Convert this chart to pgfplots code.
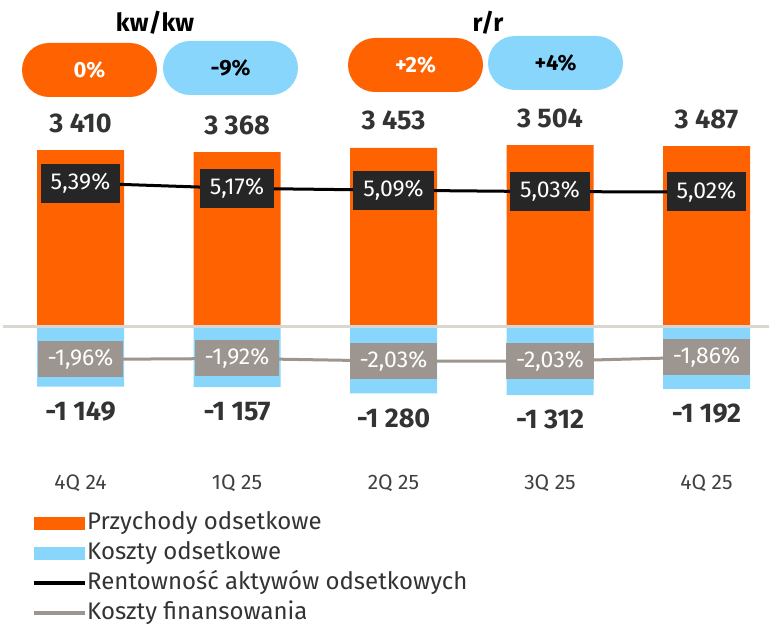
\documentclass[border=0pt]{standalone}
\usepackage{pgfplots}
\pgfplotsset{compat=1.18}
\usepackage{fontspec}
\setmainfont{Fira Sans}
\usetikzlibrary{shapes.misc}
\definecolor{ingorange}{HTML}{FF6200}
\definecolor{ingblue}{HTML}{89D6FD}
\definecolor{boxblack}{HTML}{262626}
\definecolor{boxgrey}{HTML}{9D958F}
\definecolor{baseclr}{HTML}{DCD6D1}
\definecolor{txt}{HTML}{333333}
\definecolor{cattxt}{HTML}{404040}
\begin{document}
\begin{tikzpicture}
\useasboundingbox (0pt,0pt) rectangle (769pt,629pt);
\begin{axis}[
  at={(0pt,0pt)}, anchor=south west,
  scale only axis, width=769pt, height=629pt,
  xmin=-0.5144, xmax=4.3994,
  ymin=-5818.9, ymax=6300.6,
  axis line style={draw=none}, tick style={draw=none},
  ytick=\empty,
  xtick={0,1,2,3,4},
  xticklabels={4Q 24,1Q 25,2Q 25,3Q 25,4Q 25},
  xticklabel style={anchor=center, yshift=150pt, font=\fontsize{21pt}{25pt}\selectfont, text=cattxt},
  ybar, bar width=87pt, bar shift=0pt,
  /pgf/number format/assume math mode=true,
  /pgf/number format/1000 sep={\ },
  nodes near coords,
  every node near coord/.append style={anchor=center, font=\bfseries\fontsize{27pt}{32pt}\selectfont, text=txt},
  legend style={at={(0.0416,0.186)}, anchor=north west, draw=none, fill=none, inner sep=0pt,
    font=\fontsize{24pt}{28pt}\selectfont, text=txt, row sep=8pt,
    nodes={inner sep=0pt, text height=17pt, text depth=5pt},
    /tikz/every even column/.append style={column sep=6pt}},
  legend cell align=left,
  clip=false,
]
\addplot[fill=ingorange, draw=none, every node near coord/.append style={yshift=27pt},
  legend image code/.code={\fill[ingorange] (0pt,-6.5pt) rectangle (51pt,6.5pt);}]
  coordinates {(0,3410) (1,3368) (2,3453) (3,3504) (4,3487)};
\addlegendentry{Przychody odsetkowe}
\addplot[fill=ingblue, draw=none, every node near coord/.append style={yshift=-24.5pt},
  legend image code/.code={\fill[ingblue] (0pt,-6.5pt) rectangle (51pt,6.5pt);}]
  coordinates {(0,-1149) (1,-1157) (2,-1280) (3,-1312) (4,-1192)};
\addlegendentry{Koszty odsetkowe}
\addlegendimage{legend image code/.code={\draw[black, line width=4pt] (0pt,0pt) -- (51pt,0pt);}}
\addlegendentry{Rentowność aktywów odsetkowych}
\addlegendimage{legend image code/.code={\draw[boxgrey, line width=4pt] (0pt,0pt) -- (51pt,0pt);}}
\addlegendentry{Koszty finansowania}
\draw[baseclr, line width=3pt] (axis cs:-0.4952,0) -- (axis cs:4.3994,0);
\end{axis}
\begin{axis}[
  at={(0pt,0pt)}, anchor=south west,
  scale only axis, width=769pt, height=629pt,
  xmin=-0.5144, xmax=4.3994, ymin=-13.1917, ymax=13.0167,
  hide axis, clip=false,
  /pgf/number format/use comma,
  /pgf/number format/fixed,
  /pgf/number format/fixed zerofill,
  /pgf/number format/precision=2,
  /pgf/number format/assume math mode=true,
  nodes near coords={\pgfmathprintnumber{\pgfplotspointmeta}\%},
  every node near coord/.append style={anchor=center, text=white, inner xsep=10pt,
    font=\fontsize{23pt}{27pt}\selectfont},
]
\addplot[black, line width=3pt, mark=none,
  every node near coord/.append style={fill=boxblack, minimum height=39pt}]
  coordinates {(0,5.39) (1,5.17) (2,5.09) (3,5.03) (4,5.02)};
\addplot[boxgrey, line width=3pt, mark=none,
  every node near coord/.append style={fill=boxgrey, minimum height=36pt}]
  coordinates {(0,-1.96) (1,-1.92) (2,-2.03) (3,-2.03) (4,-1.86)};
\end{axis}
\node[font=\bfseries\fontsize{25pt}{30pt}\selectfont, text=black] at (155pt,606pt) {kw/kw};
\node[font=\bfseries\fontsize{25pt}{30pt}\selectfont, text=black] at (488pt,606pt) {r/r};
\tikzset{pill/.style={rounded rectangle, minimum width=135pt, minimum height=54pt, inner sep=0pt,
  font=\bfseries\fontsize{22pt}{26pt}\selectfont}}
\node[pill, fill=ingorange, text=white] at (89.5pt,559pt) {0\%};
\node[pill, fill=ingblue, text=black] at (230.5pt,561pt) {-9\%};
\node[pill, fill=ingorange, text=white] at (415.5pt,564pt) {+2\%};
\node[pill, fill=ingblue, text=black] at (555.5pt,566pt) {+4\%};
\end{tikzpicture}
\end{document}
